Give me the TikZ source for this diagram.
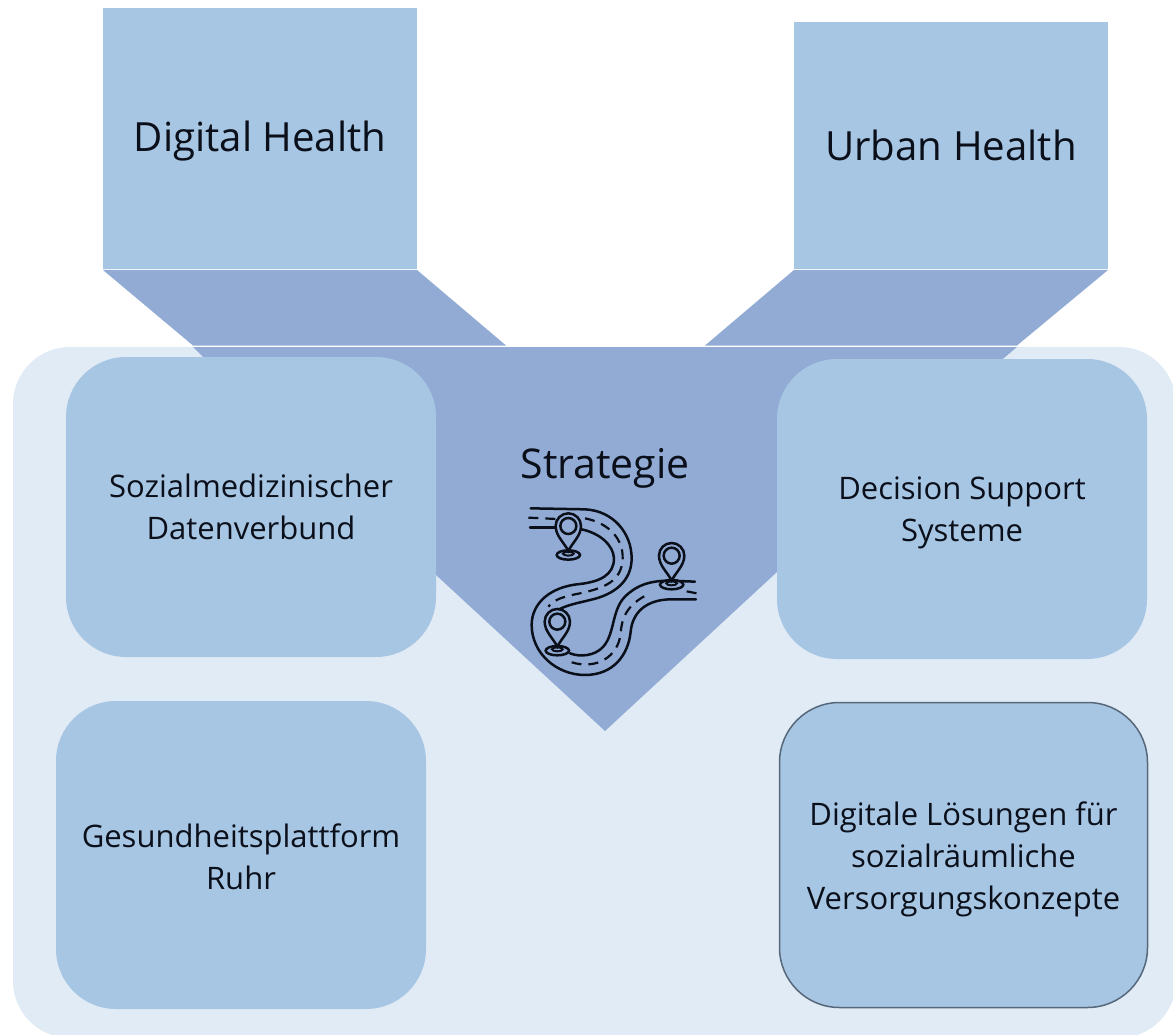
\documentclass[tikz,border=0pt]{standalone}
\usepackage{fontspec}
\setmainfont{Open Sans}
\definecolor{boxblue}{HTML}{A7C6E3}
\definecolor{bandblue}{HTML}{91ABD4}
\definecolor{bgblue}{HTML}{E1EBF5}
\definecolor{edgegrey}{HTML}{56687A}
\definecolor{inkblack}{HTML}{0A0F1A}
\tikzset{
  topbox/.style={fill=boxblue,inner sep=0pt},
  toptext/.style={inner sep=0pt,align=center,text=inkblack,font=\fontsize{40.2}{44}\selectfont},
  roundbox/.style={fill=boxblue,rounded corners=60pt,inner sep=0pt},
  roundtext/.style={inner sep=0pt,align=center,text=inkblack,font=\fontsize{31}{42}\selectfont},
  roadline/.style={draw=inkblack,line width=2.5pt,line cap=round},
  roaddash/.style={draw=inkblack,line width=2.2pt,dash pattern=on 10pt off 7pt},
  mappin/.pic={
    \path[draw=inkblack,line width=2.5pt,fill=bandblue] (0,12) ellipse[x radius=35,y radius=14];
    \path[draw=inkblack,line width=2pt,fill=bandblue] (0,8) ellipse[x radius=16,y radius=6];
    \path[draw=inkblack,line width=2.5pt,fill=bandblue] (0,0) .. controls (-12,-25) and (-38,-45) .. (-38,-75)
      .. controls (-38,-96) and (-21,-113) .. (0,-113)
      .. controls (21,-113) and (38,-96) .. (38,-75)
      .. controls (38,-45) and (12,-25) .. (0,0) -- cycle;
    \path[draw=inkblack,line width=2.5pt] (0,-75) circle[radius=24];
  }
}
\begin{document}
\begin{tikzpicture}[x=1pt,y=-1pt]
\useasboundingbox (0,0) rectangle (1173,1035);
\fill[white] (0,0) rectangle (1173,1035);
\fill[bgblue,rounded corners=57pt] (13,347) rectangle (1176,1038);
\fill[bandblue] (103,270) -- (417,270) -- (506,345.5) -- (193,345.5) -- cycle;
\fill[bandblue] (794,270) -- (1108,270) -- (1017,345.5) -- (705,345.5) -- cycle;
\fill[bandblue] (193,347) -- (1017,347) -- (1004,358) -- (777,572) -- (605,731) -- (436,575) -- (204,358) -- cycle;
\node[topbox,minimum width=314pt,minimum height=261pt] (digital) at (260,138.5) {};
\node[toptext,yshift=-3pt] (digitaltext) at (digital.center) {Digital Health};
\node[topbox,minimum width=314pt,minimum height=247pt] (urban) at (951,145.5) {};
\node[toptext] (urbantext) at (urban.center) {Urban Health};
\node[roundbox,minimum width=370pt,minimum height=300pt] (sozial) at (251,507) {};
\node[roundtext] (sozialtext) at (sozial.center) {Sozialmedizinischer\\Datenverbund};
\node[roundbox,minimum width=370pt,minimum height=300pt] (decision) at (962,509) {};
\node[roundtext,yshift=-4pt] (decisiontext) at (decision.center) {Decision Support\\Systeme};
\node[roundbox,minimum width=370pt,minimum height=308pt] (gesund) at (241,855) {};
\node[roundtext,yshift=-2pt] (gesundtext) at (gesund.center) {Gesundheitsplattform\\Ruhr};
\node[roundbox,draw=edgegrey,line width=1.5pt,minimum width=368pt,minimum height=305pt] (digitale) at (963.5,855) {};
\node[roundtext,yshift=-4pt] (digitaletext) at (digitale.center) {Digitale Lösungen für\\sozialräumliche\\Versorgungskonzepte};
\node[text=inkblack,font=\fontsize{41}{48}\selectfont,inner sep=0pt] (strategie) at (605,468) {Strategie};
\begin{scope}[shift={(500,490)},x=.3333pt,y=-.3333pt]
  \path[roadline] (92,55) -- (255,58) .. controls (340,62) and (395,130) .. (395,205)
    .. controls (395,275) and (340,315) .. (270,330) .. controls (240,338) and (195,345) .. (165,365);
  \path[roadline] (90,113) -- (170,113);
  \path[roadline] (245,118) .. controls (300,130) and (340,165) .. (342,205)
    .. controls (342,255) and (300,275) .. (240,282) .. controls (150,290) and (95,340) .. (95,405)
    .. controls (95,490) and (170,555) .. (255,555) .. controls (340,555) and (385,495) .. (392,425)
    .. controls (398,365) and (440,330) .. (510,328) -- (588,328);
  \path[roadline] (210,490) .. controls (240,502) and (285,498) .. (310,470)
    .. controls (345,430) and (335,360) .. (375,320) .. controls (410,285) and (450,272) .. (510,272) -- (585,275);
  \path[roaddash] (85,83) -- (170,87);
  \path[roaddash] (255,85) .. controls (330,100) and (370,150) .. (368,205)
    .. controls (366,275) and (310,295) .. (240,310) .. controls (200,318) and (165,325) .. (145,350);
  \path[roaddash] (215,517) .. controls (290,540) and (355,500) .. (362,430)
    .. controls (365,390) and (375,345) .. (450,310);
  \path[roaddash] (560,304) -- (590,310);
  \pic at (205,183) {mappin};
  \pic at (172,470) {mappin};
  \pic at (515,272) {mappin};
\end{scope}
\end{tikzpicture}
\end{document}
